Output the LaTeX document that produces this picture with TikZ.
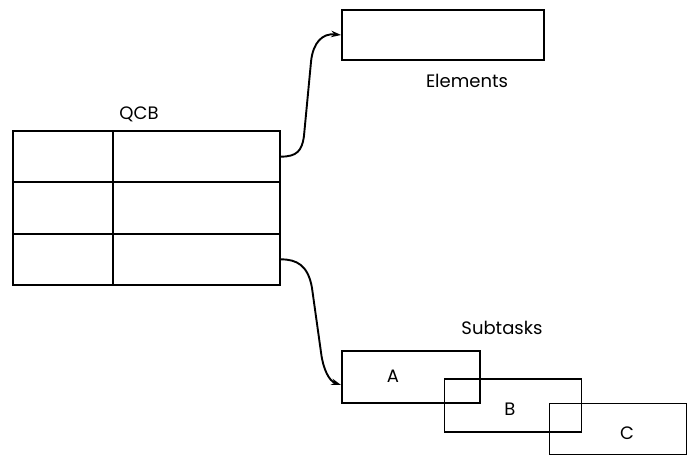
\documentclass[tikz,border=0pt]{standalone}
\usepackage{fontspec}
\setmainfont{Poppins}
\usetikzlibrary{arrows.meta,calc}
\begin{document}
\begin{tikzpicture}[x=1pt,y=-1pt,
  line width=1.8pt,
  cell/.style 2 args={draw,inner sep=0pt,minimum width=#1,minimum height=#2},
  lbl/.style={inner sep=0pt,font=\fontsize{18}{20}\selectfont},
  link/.style={-{Stealth[length=10pt,width=6.5pt]},line width=1.9pt}]
  \useasboundingbox (0,0) rectangle (691,457);
  % QCB table: two columns, three rows
  \node[cell={100pt}{51.3pt}] (q11) at (63,156.65) {};
  \node[cell={167pt}{51.3pt}] (q12) at (196.5,156.65) {};
  \node[cell={100pt}{51.3pt}] (q21) at (63,208) {};
  \node[cell={167pt}{51.3pt}] (q22) at (196.5,208) {};
  \node[cell={100pt}{51.3pt}] (q31) at (63,259.35) {};
  \node[cell={167pt}{51.3pt}] (q32) at (196.5,259.35) {};
  \node[lbl] (qcb) at (139,114) {QCB};
  % element block
  \node[cell={202pt}{50pt}] (elem) at (443,35) {};
  \node[lbl] (elemlbl) at (467,81) {Elements};
  % chain of subtask blocks
  \node[cell={138pt}{52pt}] (A) at (411,377) {};
  \node[cell={137pt}{53pt}] (B) at (513,405.5) {};
  \node[cell={137pt}{51pt}] (C) at (618,429) {};
  \node[lbl] (Alb) at (393,376) {A};
  \node[lbl] (Blb) at (510,409) {B};
  \node[lbl] (Clb) at (627,433) {C};
  \node[lbl] (sub) at (502,328) {Subtasks};
  % pointers: short bend, near-vertical run, short bend
  \coordinate (Ain) at ($(A.west)+(0,8)$);
  \draw[link] (q12.east) .. controls ($(q12.east)+(16,0)$) and ($(q12.east)+(21,-6)$) .. ($(q12.east)+(23,-20)$)
    -- ($(elem.west)+(-30,26)$) .. controls ($(elem.west)+(-28,8)$) and ($(elem.west)+(-19,-2)$) .. (elem.west);
  \draw[link] (q32.east) .. controls ($(q32.east)+(16,0)$) and ($(q32.east)+(27,6)$) .. ($(q32.east)+(31,28)$)
    -- ($(Ain)+(-20,-32)$) .. controls ($(Ain)+(-18,-16)$) and ($(Ain)+(-12,-4)$) .. (Ain);
\end{tikzpicture}
\end{document}
